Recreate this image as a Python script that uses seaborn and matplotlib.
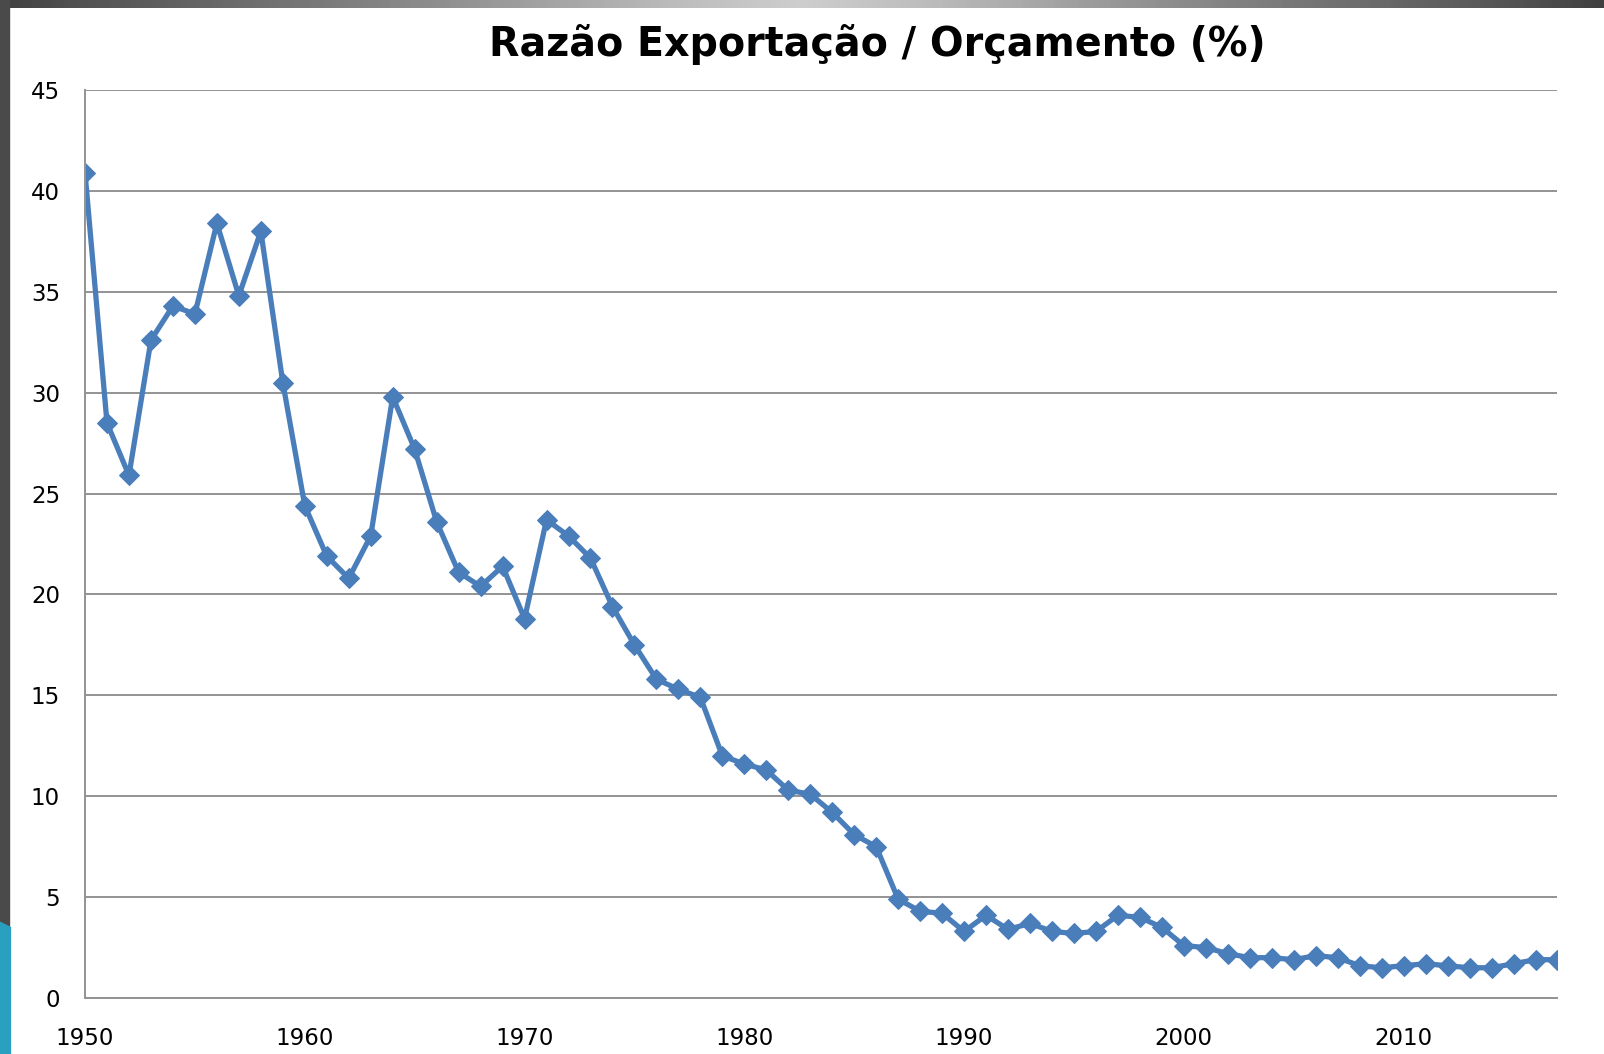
import numpy as np
import pandas as pd
import seaborn as sns
import matplotlib.pyplot as plt
from matplotlib.patches import Rectangle, Polygon

years = list(range(1950, 2018))
ratio = [40.9, 28.5, 25.9, 32.6, 34.3, 33.9, 38.4, 34.8, 38.0, 30.5,
         24.4, 21.9, 20.8, 22.9, 29.8, 27.2, 23.6, 21.1, 20.4, 21.4,
         18.8, 23.7, 22.9, 21.8, 19.4, 17.5, 15.8, 15.3, 14.9, 12.0,
         11.6, 11.3, 10.3, 10.1, 9.2, 8.1, 7.5, 4.9, 4.3, 4.2,
         3.3, 4.1, 3.4, 3.7, 3.3, 3.2, 3.3, 4.1, 4.0, 3.5,
         2.6, 2.5, 2.2, 2.0, 2.0, 1.9, 2.1, 2.0, 1.6, 1.5,
         1.6, 1.7, 1.6, 1.5, 1.5, 1.7, 1.9, 1.9]
x_ticks = [1950, 1960, 1970, 1980, 1990, 2000, 2010]
y_ticks = [0, 5, 10, 15, 20, 25, 30, 35, 40, 45]
title = "Razão Exportação / Orçamento (%)"

df = pd.DataFrame({"ano": years, "razao": ratio})

sns.set_theme(style="white")
plt.rcParams["font.family"] = ["DejaVu Sans"]

fig = plt.figure(figsize=(16.04, 10.54), dpi=100)
ax = fig.add_axes([0.053, 0.0531, 0.918, 0.8615])

sns.lineplot(data=df, x="ano", y="razao", ax=ax, color="#4a7ebb",
             linewidth=3.8, marker="D", markersize=10,
             markeredgecolor="#4a7ebb")

ax.set_xlim(1950, 2017)
ax.set_ylim(0, 45)
ax.set_xticks(x_ticks)
ax.set_yticks(y_ticks)
ax.set_xlabel("")
ax.set_ylabel("")
ax.yaxis.grid(True, color="#939393", linewidth=1.4)
ax.set_axisbelow(True)
for s in ["top", "right"]:
    ax.spines[s].set_visible(False)
for s in ["left", "bottom"]:
    ax.spines[s].set_color("#939393")
    ax.spines[s].set_linewidth(1.4)
ax.tick_params(axis="both", direction="out", length=6, width=1.2,
               color="#939393", labelsize=16.5, labelcolor="black")
ax.tick_params(axis="x", pad=15)
ax.tick_params(axis="y", pad=12)

fig.text(0.547, 0.958, title, ha="center", va="center", color="black",
         fontsize=28.5, fontweight="bold")

# slide frame decorations
grad = fig.add_axes([0, 0.992, 1, 0.008])
g = np.abs(np.linspace(-1, 1, 400))
grad.imshow(g[None, :], aspect="auto", cmap="Greys", vmin=-0.6, vmax=1.4)
grad.axis("off")
fig.patches.append(Rectangle((0, 0), 0.0055, 1, transform=fig.transFigure,
                             color="#4a4a4a", zorder=5))
fig.patches.append(Polygon([(0, 0), (0.0065, 0), (0.0065, 0.12), (0, 0.125)],
                           closed=True, transform=fig.transFigure,
                           color="#2aa0c0", zorder=6))

fig.savefig("out.png", dpi=100)
